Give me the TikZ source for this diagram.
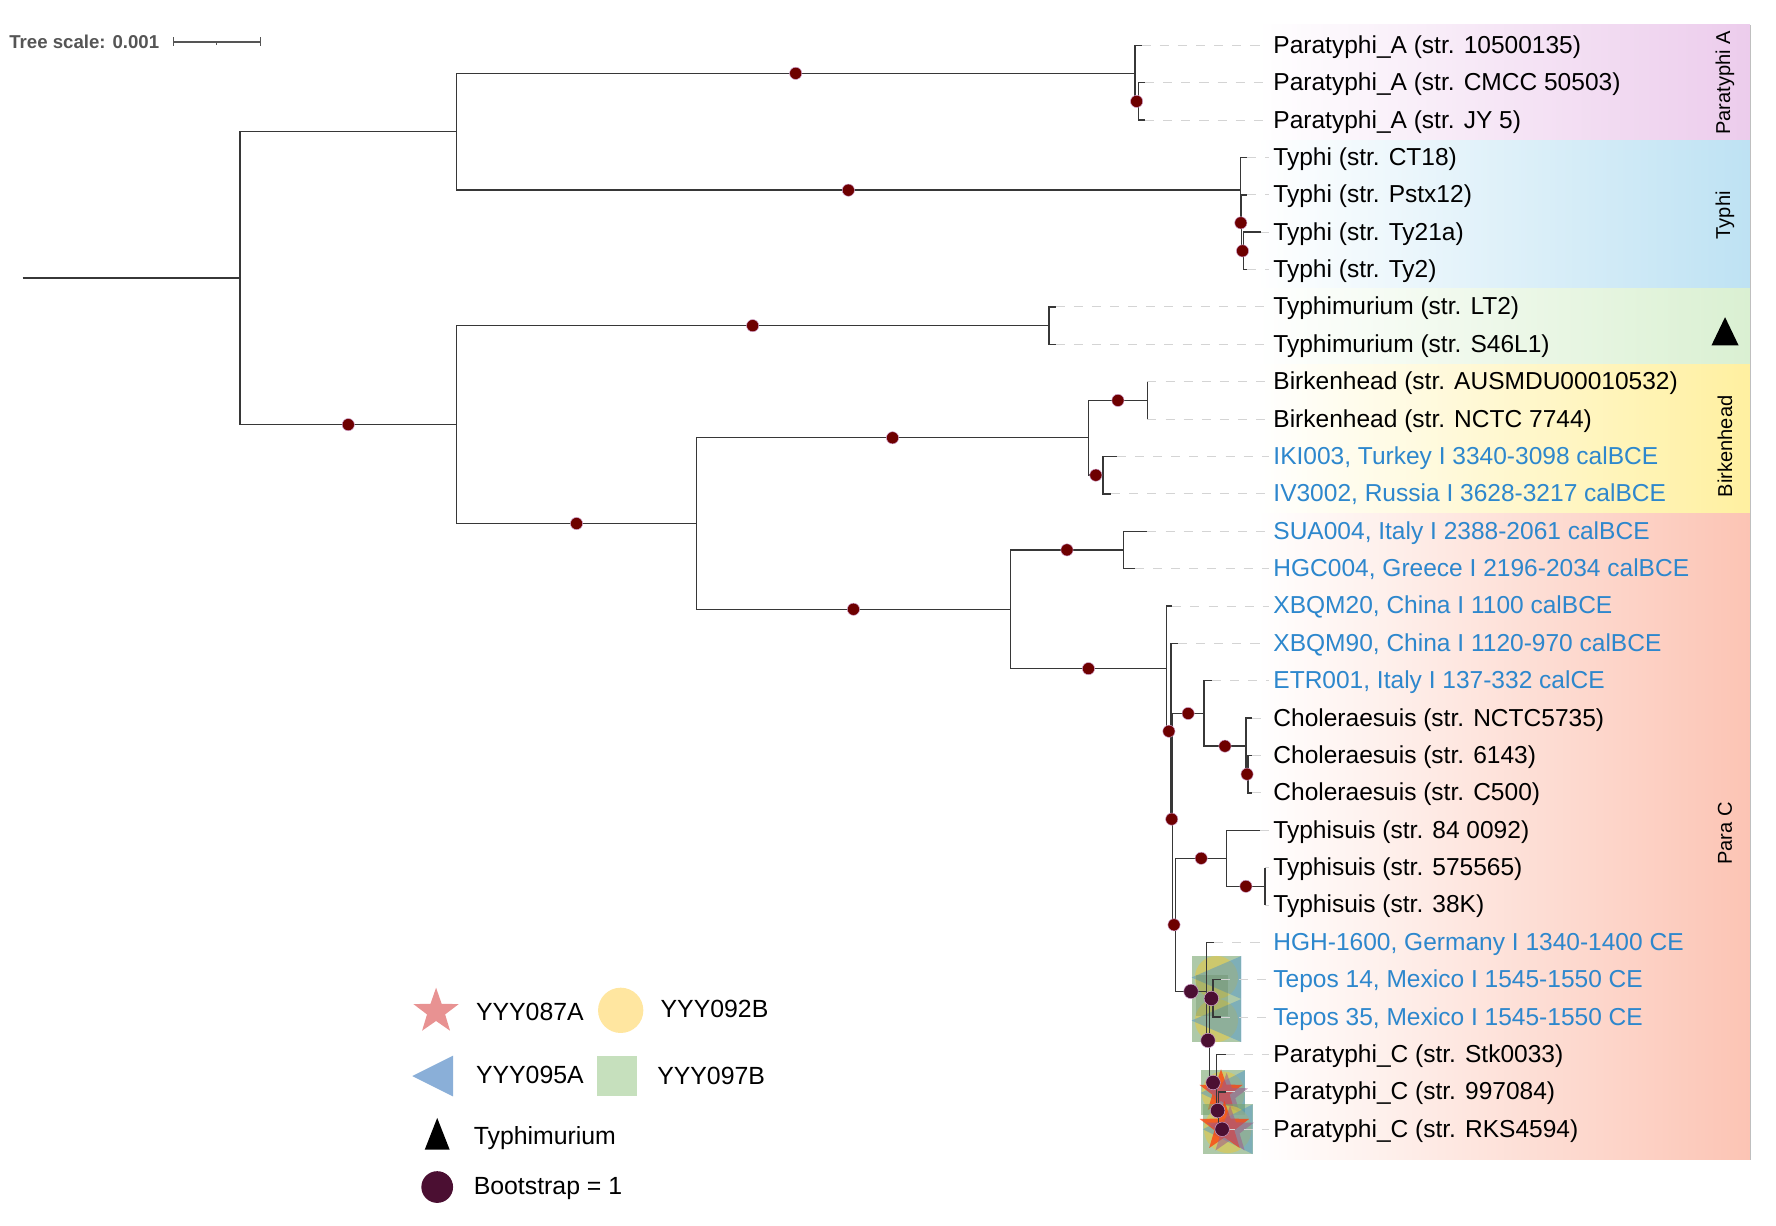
\documentclass[tikz,border=0pt]{standalone}
\usepackage{fontspec}
\setmainfont{Liberation Sans}
\usepackage{xcolor}
\usetikzlibrary{calc,positioning,shapes.geometric}

\definecolor{branchgray}{RGB}{55,55,55}
\definecolor{scalegray}{RGB}{85,85,85}
\definecolor{bootred}{RGB}{110,0,0}
\definecolor{bootpurple}{RGB}{75,15,50}
\definecolor{ancientblue}{RGB}{45,135,205}
\definecolor{bandPA}{RGB}{236,204,236}
\definecolor{bandTY}{RGB}{190,226,243}
\definecolor{bandTM}{RGB}{218,240,210}
\definecolor{bandBK}{RGB}{255,240,160}
\definecolor{bandPC}{RGB}{252,196,180}
\definecolor{col087}{RGB}{232,146,146}
\definecolor{col092}{RGB}{255,230,160}
\definecolor{col095}{RGB}{138,175,216}
\definecolor{col097}{RGB}{198,224,189}
\definecolor{ovgreen}{RGB}{120,165,110}
\definecolor{ovyellow}{RGB}{225,200,70}
\definecolor{ovblue}{RGB}{80,150,200}
\definecolor{ovred}{RGB}{255,60,10}
\definecolor{ovmauve}{RGB}{160,90,140}

\begin{document}
\begin{tikzpicture}[x=0.25mm, y=-0.25mm,
	branch/.style={draw=branchgray, line width=0.9pt},
	leader/.style={draw=black!17, line width=0.6pt, dash pattern=on 2mm off 2mm},
	leaf label/.style={anchor=west, inner sep=1mm, font=\fontsize{15.4}{18}\selectfont, text height=12pt, text depth=2pt},
	ancient/.style={leaf label, text=ancientblue},
	boot dot/.style={circle, fill=bootred, draw=violet!35, line width=0.3pt, inner sep=0pt, minimum size=2.7mm},
	boot dot over/.style={boot dot, fill=bootpurple, minimum size=3.2mm},
	clade band/.style={left color=white},
	clade label/.style={rotate=90, inner sep=0pt, font=\fontsize{12.6}{14}\selectfont},
	legend label/.style={anchor=west, inner sep=0pt, font=\fontsize{15.6}{18}\selectfont, text height=11pt, text depth=2pt},
	scale bar/.style={draw=scalegray, line width=0.8pt},
	ov square/.style={fill=ovgreen, fill opacity=.6},
	ov circle/.style={fill=ovyellow, fill opacity=.6},
	ov tri/.style={fill=ovblue, fill opacity=.5},
	ov star/.style={star, star points=5, star point ratio=2.5, inner sep=0pt, fill=ovred, fill opacity=.75},
	ov star2/.style={ov star, fill=ovmauve, fill opacity=.55},
]
\useasboundingbox (0,0) rectangle (1568,1082);

% clade ranges
\shade[clade band, right color=bandPA] (1110,22) rectangle (1545,124);
\shade[clade band, right color=bandTY] (1110,124) rectangle (1545,255);
\shade[clade band, right color=bandTM] (1110,255) rectangle (1545,322);
\shade[clade band, right color=bandBK] (1110,322) rectangle (1545,453);
\shade[clade band, right color=bandPC] (1110,453) rectangle (1545,1024);
\draw[black!25, line width=0.5pt] (1545,22) -- (1545,1024);

\node[clade label] (cpa) at (1523,73) {Paratyphi A};
\node[clade label] (cty) at (1523,190) {Typhi};
\coordinate (ctm) at (1523,293);
\fill[black] ($(ctm)+(0,-13)$) -- ($(ctm)+(12,12)$) -- ($(ctm)+(-12,12)$) -- cycle;
\node[clade label] (cbk) at (1523,394) {Birkenhead};
\node[clade label] (cpc) at (1523,736) {Para C};

% sample symbols
\fill[ov square] (1052,844) rectangle (1096,882);
\fill[ov circle] (1074,863) circle (4.75mm);
\fill[ov tri] (1052,863) -- (1096,844) -- (1096,882) -- cycle;
\fill[ov square] (1052,882) rectangle (1096,920);
\fill[ov circle] (1074,901) circle (4.75mm);
\fill[ov tri] (1052,901) -- (1096,882) -- (1096,920) -- cycle;
\fill[ovgreen!80!black, fill opacity=.3] (1056,861) rectangle (1084,897);

\fill[ov square] (1060,945) rectangle (1099,984);
\fill[ov circle] (1080,965) circle (4.75mm);
\fill[ov tri] (1060,965) -- (1099,945) -- (1099,984) -- cycle;
\node[ov star, minimum size=10mm] (os1) at (1078,964) {};
\node[ov star2, minimum size=10mm] (os2) at (1083,967) {};
\fill[ov square] (1062,975) rectangle (1106,1019);
\fill[ov circle] (1084,997) circle (5.25mm);
\fill[ov tri] (1062,997) -- (1106,975) -- (1106,1019) -- cycle;
\node[ov star, minimum size=11.5mm] (os3) at (1081,995) {};
\node[ov star2, minimum size=11mm] (os4) at (1086,998) {};

% leaves
\node[leaf label] (lb0) at (1120,40) {Paratyphi\_A (str. 10500135)};
\node[leaf label] (lb1) at (1120,73) {Paratyphi\_A (str. CMCC 50503)};
\node[leaf label] (lb2) at (1120,106) {Paratyphi\_A (str. JY 5)};
\node[leaf label] (lb3) at (1120,139) {Typhi (str. CT18)};
\node[leaf label] (lb4) at (1120,172) {Typhi (str. Pstx12)};
\node[leaf label] (lb5) at (1120,205) {Typhi (str. Ty21a)};
\node[leaf label] (lb6) at (1120,238) {Typhi (str. Ty2)};
\node[leaf label] (lb7) at (1120,271) {Typhimurium (str. LT2)};
\node[leaf label] (lb8) at (1120,304) {Typhimurium (str. S46L1)};
\node[leaf label] (lb9) at (1120,337) {Birkenhead (str. AUSMDU00010532)};
\node[leaf label] (lb10) at (1120,370) {Birkenhead (str. NCTC 7744)};
\node[ancient] (lb11) at (1120,403) {IKI003, Turkey I 3340-3098 calBCE};
\node[ancient] (lb12) at (1120,436) {IV3002, Russia I 3628-3217 calBCE};
\node[ancient] (lb13) at (1120,469) {SUA004, Italy I 2388-2061 calBCE};
\node[ancient] (lb14) at (1120,502) {HGC004, Greece I 2196-2034 calBCE};
\node[ancient] (lb15) at (1120,535) {XBQM20, China I 1100 calBCE};
\node[ancient] (lb16) at (1120,568) {XBQM90, China I 1120-970 calBCE};
\node[ancient] (lb17) at (1120,601) {ETR001, Italy I 137-332 calCE};
\node[leaf label] (lb18) at (1120,634) {Choleraesuis (str. NCTC5735)};
\node[leaf label] (lb19) at (1120,667) {Choleraesuis (str. 6143)};
\node[leaf label] (lb20) at (1120,700) {Choleraesuis (str. C500)};
\node[leaf label] (lb21) at (1120,733) {Typhisuis (str. 84 0092)};
\node[leaf label] (lb22) at (1120,766) {Typhisuis (str. 575565)};
\node[leaf label] (lb23) at (1120,799) {Typhisuis (str. 38K)};
\node[ancient] (lb24) at (1120,832) {HGH-1600, Germany I 1340-1400 CE};
\node[ancient] (lb25) at (1120,865) {Tepos 14, Mexico I 1545-1550 CE};
\node[ancient] (lb26) at (1120,898) {Tepos 35, Mexico I 1545-1550 CE};
\node[leaf label] (lb27) at (1120,931) {Paratyphi\_C (str. Stk0033)};
\node[leaf label] (lb28) at (1120,964) {Paratyphi\_C (str. 997084)};
\node[leaf label] (lb29) at (1120,997) {Paratyphi\_C (str. RKS4594)};

\coordinate (tp0) at (1008,40);   \coordinate (tp1) at (1011,73);   \coordinate (tp2) at (1011,106);
\coordinate (tp3) at (1101,139);  \coordinate (tp4) at (1101,172);  \coordinate (tp5) at (1113,205);
\coordinate (tp6) at (1101,238);  \coordinate (tp7) at (932,271);   \coordinate (tp8) at (932,304);
\coordinate (tp9) at (1013,337);  \coordinate (tp10) at (1013,370); \coordinate (tp11) at (986,403);
\coordinate (tp12) at (981,436);  \coordinate (tp13) at (1013,469); \coordinate (tp14) at (1002,502);
\coordinate (tp15) at (1035,535); \coordinate (tp16) at (1040,568); \coordinate (tp17) at (1070,601);
\coordinate (tp18) at (1105,634); \coordinate (tp19) at (1105,667); \coordinate (tp20) at (1105,700);
\coordinate (tp21) at (1112,733); \coordinate (tp22) at (1117,766); \coordinate (tp23) at (1117,799);
\coordinate (tp24) at (1072,832); \coordinate (tp25) at (1078,865); \coordinate (tp26) at (1078,898);
\coordinate (tp27) at (1082,931); \coordinate (tp28) at (1082,964); \coordinate (tp29) at (1082,997);

\draw[leader] (tp0) -- (lb0) (tp1) -- (lb1) (tp2) -- (lb2) (tp3) -- (lb3) (tp4) -- (lb4)
	(tp5) -- (lb5) (tp6) -- (lb6) (tp7) -- (lb7) (tp8) -- (lb8) (tp9) -- (lb9)
	(tp10) -- (lb10) (tp11) -- (lb11) (tp12) -- (lb12) (tp13) -- (lb13) (tp14) -- (lb14)
	(tp15) -- (lb15) (tp16) -- (lb16) (tp17) -- (lb17) (tp18) -- (lb18) (tp19) -- (lb19)
	(tp20) -- (lb20) (tp21) -- (lb21) (tp22) -- (lb22) (tp23) -- (lb23) (tp24) -- (lb24)
	(tp25) -- (lb25) (tp26) -- (lb26) (tp27) -- (lb27) (tp28) -- (lb28) (tp29) -- (lb29);

% internal nodes
\coordinate (root) at (20,245.6);
\coordinate (n1) at (212,245.6);
\coordinate (n2) at (403,116.3);
\coordinate (pa1) at (1002,64.75);
\coordinate (pa2) at (1005,89.5);
\coordinate (ty1) at (1095,167.9);
\coordinate (ty2) at (1096,196.75);
\coordinate (ty3) at (1098,221.5);
\coordinate (n3) at (403,374.9);
\coordinate (tm) at (926,287.5);
\coordinate (n4) at (615,462.2);
\coordinate (bk) at (961,386.5);
\coordinate (bk1) at (1013,353.5);
\coordinate (bk2) at (974,419.5);
\coordinate (n5) at (892,537.9);
\coordinate (n6) at (992,485.5);
\coordinate (n7) at (1030,590.3);
\coordinate (n8) at (1034,645.6);
\coordinate (n9) at (1035,723.2);
\coordinate (etr) at (1063,629.9);
\coordinate (ch1) at (1100,658.75);
\coordinate (ch2) at (1102,683.5);
\coordinate (n10) at (1038,816.5);
\coordinate (ts1) at (1083,757.75);
\coordinate (ts2) at (1117,782.5);
\coordinate (pc1) at (1065,875.3);
\coordinate (pc2) at (1068,918.6);
\coordinate (pc3) at (1071,881.5);
\coordinate (pc4) at (1074,955.75);
\coordinate (pc5) at (1076,980.5);

\draw[branch]
	(root) -- (n1)
	(n1) |- (n2)
	(n1) |- (n3) node[boot dot, pos=.75] (d1) {}
	(n2) |- (pa1) node[boot dot, pos=.75] (d2) {}
	(n2) |- (ty1) node[boot dot, pos=.75] (d3) {}
	(pa1) |- (tp0)
	(pa1) |- (pa2) node[boot dot, pos=.75] (d4) {}
	(pa2) |- (tp1) (pa2) |- (tp2)
	(ty1) |- (tp3)
	(ty1) |- (ty2) node[boot dot, pos=.75] (d5) {}
	(ty2) |- (tp4)
	(ty2) |- (ty3) node[boot dot, pos=.75] (d6) {}
	(ty3) |- (tp5) (ty3) |- (tp6)
	(n3) |- (tm) node[boot dot, pos=.75] (d7) {}
	(n3) |- (n4) node[boot dot, pos=.75] (d8) {}
	(tm) |- (tp7) (tm) |- (tp8)
	(n4) |- (bk) node[boot dot, pos=.75] (d9) {}
	(n4) |- (n5) node[boot dot, pos=.75] (d10) {}
	(bk) |- (bk1) node[boot dot, pos=.75] (d11) {}
	(bk) |- (bk2) node[boot dot, pos=.75] (d12) {}
	(bk1) |- (tp9) (bk1) |- (tp10)
	(bk2) |- (tp11) (bk2) |- (tp12)
	(n5) |- (n6) node[boot dot, pos=.75] (d13) {}
	(n5) |- (n7) node[boot dot, pos=.75] (d14) {}
	(n6) |- (tp13) (n6) |- (tp14)
	(n7) |- (tp15)
	(n7) |- (n8) node[boot dot, pos=.75] (d15) {}
	(n8) |- (tp16)
	(n8) |- (n9) node[boot dot, pos=.75] (d16) {}
	(n9) |- (etr) node[boot dot, pos=.75] (d17) {}
	(n9) |- (n10) node[boot dot, pos=.75] (d18) {}
	(etr) |- (tp17)
	(etr) |- (ch1) node[boot dot, pos=.75] (d19) {}
	(ch1) |- (tp18)
	(ch1) |- (ch2) node[boot dot, pos=.75] (d20) {}
	(ch2) |- (tp19) (ch2) |- (tp20)
	(n10) |- (ts1) node[boot dot, pos=.75] (d21) {}
	(n10) |- (pc1) node[boot dot over, pos=.75] (d22) {}
	(ts1) |- (tp21)
	(ts1) |- (ts2) node[boot dot, pos=.75] (d23) {}
	(ts2) |- (tp22) (ts2) |- (tp23)
	(pc1) |- (tp24)
	(pc1) |- (pc2) node[boot dot over, pos=.75] (d24) {}
	(pc2) |- (pc3) node[boot dot over, pos=.75] (d25) {}
	(pc2) |- (pc4) node[boot dot over, pos=.75] (d26) {}
	(pc3) |- (tp25) (pc3) |- (tp26)
	(pc4) |- (tp27)
	(pc4) |- (pc5) node[boot dot over, pos=.75] (d27) {}
	(pc5) |- (tp28)
	(pc5) |- (tp29) node[boot dot over, pos=.75] (d28) {};

% tree scale
\node[anchor=west, inner sep=0pt, text=scalegray, font=\fontsize{11.7}{14}\selectfont\bfseries] (tscale) at (8,37) {Tree scale: 0.001};
\coordinate (sb0) at (153,37);
\coordinate (sb1) at (230,37);
\coordinate (sbm) at (191,37);
\draw[scale bar] (sb0) -- (sb1) ($(sb0)+(0,-4)$) -- ($(sb0)+(0,4)$) ($(sb1)+(0,-4)$) -- ($(sb1)+(0,4)$) (sbm) -- ($(sbm)+(0,3)$);

% legend
\node[star, star points=5, star point ratio=2.5, minimum size=10.5mm, inner sep=0pt, fill=col087] (k087) at (385,893) {};
\node[legend label] (t087) at (420,895) {YYY087A};
\node[circle, minimum size=10mm, inner sep=0pt, fill=col092] (k092) at (548,892) {};
\node[legend label] (t092) at (583,892) {YYY092B};
\coordinate (k095) at (382,950);
\fill[col095] ($(k095)+(-18,0)$) -- ($(k095)+(18,-18)$) -- ($(k095)+(18,18)$) -- cycle;
\node[legend label] (t095) at (420,950) {YYY095A};
\node[minimum size=8.75mm, inner sep=0pt, fill=col097] (k097) at (545,950) {};
\node[legend label] (t097) at (580,951) {YYY097B};
\coordinate (ktm) at (386,1001);
\fill[black] ($(ktm)+(0,-14)$) -- ($(ktm)+(11,14)$) -- ($(ktm)+(-11,14)$) -- cycle;
\node[legend label] (ttm) at (418,1004) {Typhimurium};
\node[circle, minimum size=7mm, inner sep=0pt, fill=bootpurple] (kbs) at (386,1048) {};
\node[legend label] (tbs) at (418,1048) {Bootstrap = 1};
\end{tikzpicture}
\end{document}
